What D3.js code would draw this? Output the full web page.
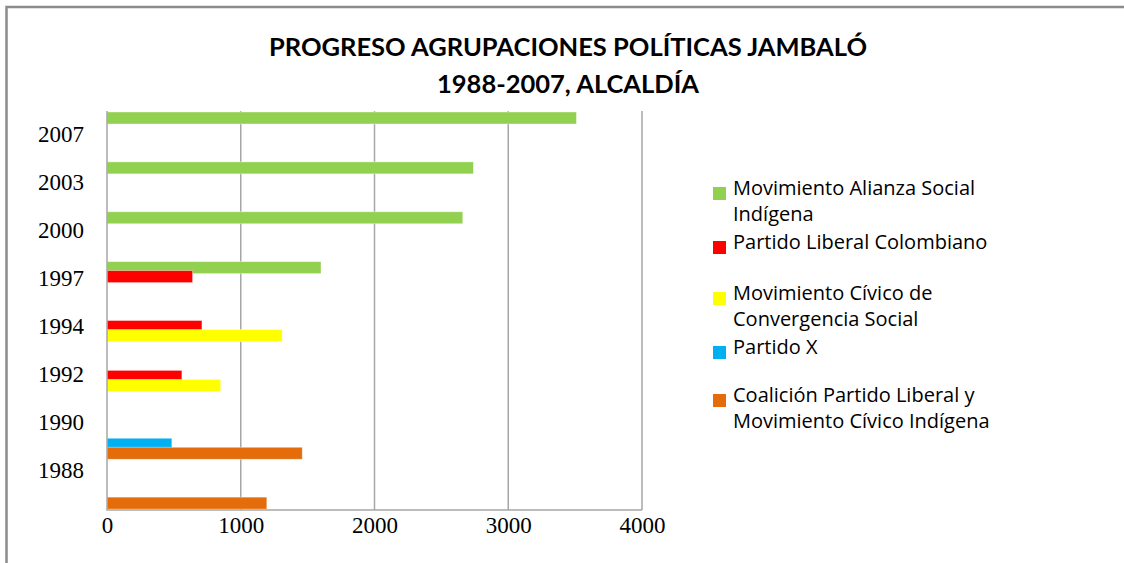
<!DOCTYPE html>
<html>
<head>
<meta charset="utf-8">
<script src="https://cdn.jsdelivr.net/npm/d3@7"></script>
<style>
  body { margin: 0; background: #fff; }
  svg { display: block; }
</style>
</head>
<body>
<div id="chart"></div>
<script>
// data
var years = ["1988", "1990", "1992", "1994", "1997", "2000", "2003", "2007"];
var seriesNames = [
    "Movimiento Alianza Social Indígena",
    "Partido Liberal Colombiano",
    "Movimiento Cívico de Convergencia Social",
    "Partido X",
    "Coalición Partido Liberal y Movimiento Cívico Indígena"
];
var legendLines = [
    ["Movimiento Alianza Social", "Indígena"],
    ["Partido Liberal Colombiano"],
    ["Movimiento Cívico de", "Convergencia Social"],
    ["Partido X"],
    ["Coalición Partido Liberal y", "Movimiento Cívico Indígena"]
];
var alianza   = [0, 0, 0, 0, 1600, 2660, 2740, 3510];
var liberal   = [0, 0, 560, 710, 640, 0, 0, 0];
var convergen = [0, 0, 850, 1310, 0, 0, 0, 0];
var partidoX  = [0, 485, 0, 0, 0, 0, 0, 0];
var coalicion = [1195, 1460, 0, 0, 0, 0, 0, 0];
var xTicks = [0, 1000, 2000, 3000, 4000];
var colors = ["#92D050", "#FF0000", "#FFFF00", "#00B0F0", "#E46C0A"];

var seriesValues = [alianza, liberal, convergen, partidoX, coalicion];

var width = 1124, height = 563;
var plot = {left: 107, right: 642, top: 111, bottom: 510};

var svg = d3.select("#chart").append("svg")
    .attr("width", width)
    .attr("height", height);

// outer frame (only top and left edges visible)
svg.append("path")
    .attr("d", "M6.5," + height + "V7H" + width)
    .attr("fill", "none")
    .attr("stroke", "#8c8c8c")
    .attr("stroke-width", 2.5);

// title
var title = svg.append("text")
    .attr("text-anchor", "middle")
    .attr("font-family", "Lato, 'Open Sans', sans-serif")
    .attr("font-weight", "bold")
    .attr("font-size", 25.5)
    .attr("fill", "#000");
title.append("tspan").attr("x", 568).attr("y", 56).text("PROGRESO AGRUPACIONES POLÍTICAS JAMBALÓ");
title.append("tspan").attr("x", 568).attr("y", 93).text("1988-2007, ALCALDÍA");

var x = d3.scaleLinear()
    .domain([0, 4000])
    .range([plot.left, plot.right]);

// bands: 1988 at the bottom, 2007 at the top
var y0 = d3.scaleBand()
    .domain(years.slice().reverse())
    .range([plot.top, plot.bottom])
    .padding(0);

var y1 = d3.scaleBand()
    .domain(seriesNames)
    .range([1, 46]);

var barH = 12;

// year labels sit a bit higher than the band centres in the picture
var yLabel = d3.scalePoint()
    .domain(years)
    .range([470, 134.5]);

// gridlines
svg.append("g")
    .selectAll("line")
    .data(xTicks.slice(1))
    .enter().append("line")
    .attr("x1", function(d) { return x(d); })
    .attr("x2", function(d) { return x(d); })
    .attr("y1", plot.top)
    .attr("y2", plot.bottom)
    .attr("stroke", "#a6a6a6")
    .attr("stroke-width", 1.5);

// bars
var rows = [];
years.forEach(function(yr, i) {
    seriesNames.forEach(function(s, j) {
        if (seriesValues[j][i] > 0) {
            rows.push({year: yr, series: s, idx: j, value: seriesValues[j][i]});
        }
    });
});

svg.append("g")
    .selectAll("rect")
    .data(rows)
    .enter().append("rect")
    .attr("x", x(0))
    .attr("y", function(d) { return y0(d.year) + y1(d.series); })
    .attr("width", function(d) { return x(d.value) - x(0); })
    .attr("height", barH)
    .attr("fill", function(d) { return colors[d.idx]; })
    .attr("stroke", "rgba(255,255,255,0.5)")
    .attr("stroke-width", 0.8);

// plot frame: left and bottom
svg.append("path")
    .attr("d", "M" + plot.left + "," + plot.top + "V" + plot.bottom + "H" + plot.right)
    .attr("fill", "none")
    .attr("stroke", "#a6a6a6")
    .attr("stroke-width", 1.5);

// x axis labels
var xAxis = svg.append("g")
    .attr("transform", "translate(0," + plot.bottom + ")")
    .call(d3.axisBottom(x).tickValues(xTicks).tickFormat(d3.format("d")).tickSize(0).tickPadding(7));
xAxis.select(".domain").remove();
xAxis.selectAll("text")
    .attr("font-family", "'Liberation Serif', 'Times New Roman', serif")
    .attr("font-size", 23)
    .attr("fill", "#000");

// y axis labels
var yAxis = svg.append("g")
    .attr("transform", "translate(84,0)")
    .call(d3.axisLeft(yLabel).tickSize(0).tickPadding(0));
yAxis.select(".domain").remove();
yAxis.selectAll("text")
    .attr("font-family", "'Liberation Serif', 'Times New Roman', serif")
    .attr("font-size", 23)
    .attr("fill", "#000");

// legend
var legendTop = [194, 248, 299, 353, 401];
var legend = svg.append("g")
    .selectAll("g")
    .data(seriesNames)
    .enter().append("g")
    .attr("transform", function(d, i) { return "translate(713," + legendTop[i] + ")"; });

legend.append("rect")
    .attr("x", 0)
    .attr("y", -7)
    .attr("width", 13)
    .attr("height", 13)
    .attr("fill", function(d, i) { return colors[i]; });

legend.append("text")
    .attr("font-family", "'Open Sans', Lato, sans-serif")
    .attr("font-size", 20)
    .attr("fill", "#000")
    .each(function(d, i) {
        var t = d3.select(this);
        legendLines[i].forEach(function(line, k) {
            t.append("tspan")
                .attr("x", 20)
                .attr("y", 1 + k * 26)
                .text(line);
        });
    });
</script>
</body>
</html>
